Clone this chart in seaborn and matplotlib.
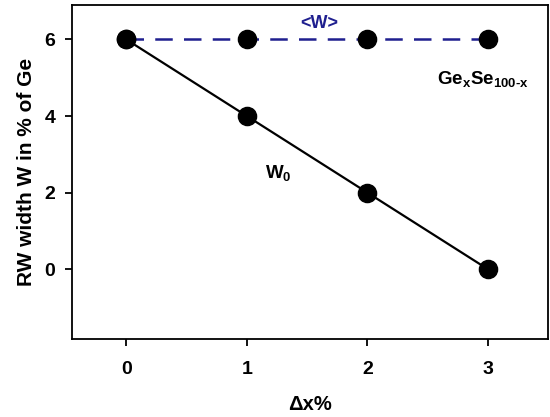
import matplotlib
matplotlib.use("Agg")
import matplotlib.pyplot as plt
import seaborn as sns
import pandas as pd

dx = [0, 1, 2, 3]
w_avg = [6, 6, 6, 6]
w0 = [6, 4, 2, 0]
xticks = [0, 1, 2, 3]
yticks = [0, 2, 4, 6]

sns.set_theme(style="ticks")
plt.rcParams['font.family'] = ['Liberation Sans', 'DejaVu Sans']
plt.rcParams['font.weight'] = 'bold'
plt.rcParams['text.color'] = 'black'
plt.rcParams['axes.labelcolor'] = 'black'
plt.rcParams['xtick.color'] = 'black'
plt.rcParams['ytick.color'] = 'black'
plt.rcParams['axes.edgecolor'] = 'black'
plt.rcParams['mathtext.fontset'] = 'custom'
plt.rcParams['mathtext.rm'] = 'Liberation Sans'
plt.rcParams['mathtext.bf'] = 'Liberation Sans:bold'

fig, ax = plt.subplots(figsize=(5.5, 4.17), dpi=100)
fig.subplots_adjust(left=0.131, right=0.997, top=0.988, bottom=0.187)

df = pd.DataFrame({"dx": dx, "wavg": w_avg, "w0": w0})
sns.lineplot(data=df, x="dx", y="wavg", ax=ax, color="#1f1f8f", lw=1.8,
             linestyle=(0, (7, 4.5)))
sns.lineplot(data=df, x="dx", y="w0", ax=ax, color="black", lw=1.6)
sns.scatterplot(data=df, x="dx", y="wavg", ax=ax, color="black", s=170,
                edgecolor="black", zorder=5)
sns.scatterplot(data=df, x="dx", y="w0", ax=ax, color="black", s=170,
                edgecolor="black", zorder=5)

ax.set_xlim(-0.45, 3.5)
ax.set_ylim(-1.82, 6.9)
ax.set_xticks(xticks)
ax.set_yticks(yticks)
ax.tick_params(axis='both', labelsize=14, width=1.3, length=5, direction='out')
ax.tick_params(axis='x', pad=11)
ax.tick_params(axis='y', pad=7)
for lab in ax.get_xticklabels() + ax.get_yticklabels():
    lab.set_fontweight('bold')
for s in ax.spines.values():
    s.set_linewidth(1.3)
    s.set_visible(True)
    s.set_color('black')

ax.set_xlabel("Δx%", fontsize=14.5, fontweight='bold')
ax.set_ylabel("RW width W in % of Ge", fontsize=15, fontweight='bold')
ax.xaxis.set_label_coords(0.5, -0.168)
ax.yaxis.set_label_coords(-0.075, 0.5)

ax.text(1.6, 6.43, "<W>", color="#1f1f8f", fontsize=13, fontweight='bold',
        ha='center', va='center')
ax.text(2.58, 4.95, r"Ge$_\mathbf{x}$Se$_\mathbf{100\text{-}x}$", fontsize=13.5,
        fontweight='bold', ha='left', va='center')
ax.text(1.15, 2.5, r"W$_\mathbf{0}$", fontsize=13.5, fontweight='bold',
        ha='left', va='center')

fig.savefig("out.png", dpi=100)
